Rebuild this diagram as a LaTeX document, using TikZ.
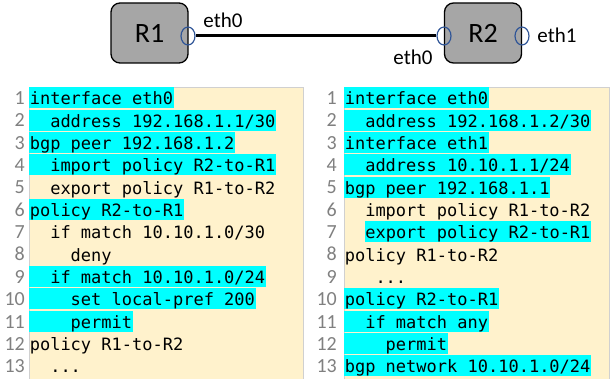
\documentclass[tikz,border=0pt]{standalone}
\usepackage{fontspec}
\usetikzlibrary{shapes.geometric}
\setmainfont{Carlito}
\newfontfamily\codefont{DejaVu Sans Mono}
\definecolor{beige}{HTML}{FFF2CC}
\definecolor{hl}{HTML}{00FFFF}
\definecolor{portblue}{HTML}{2F5597}
\definecolor{routergray}{HTML}{A6A6A6}
\definecolor{panelborder}{HTML}{D0D0D0}
\definecolor{numgray}{HTML}{808080}
\newcommand\rowtop[1]{(87+(#1-1)*22.35)}
\newcommand\codeln[5]{% side prefix, x, row, text, style
  \node[codebox,#5] (#1#3) at (#2,{-\rowtop{#3}}) {#4};}
\newcommand\codenum[4]{% side prefix, x, row, label
  \node[lnum] (#1n#3) at (#2,{-(\rowtop{#3}+17.5)}) {#4};}
\begin{document}
\begin{tikzpicture}[x=1pt,y=1pt,
  router/.style={draw=black,line width=1.3pt,fill=routergray,rounded corners=9pt,
    minimum width=77pt,minimum height=60pt,inner sep=0pt,font=\fontsize{28}{32}\selectfont},
  port/.style={draw=portblue,line width=1.2pt,ellipse,minimum width=14pt,minimum height=18pt,inner sep=0pt},
  iflabel/.style={font=\fontsize{21}{24}\selectfont,inner sep=0pt},
  codebox/.style={anchor=north west,inner xsep=0.6pt,inner ysep=0pt,text height=17.5pt,text depth=3.5pt,
    font=\codefont\fontsize{17}{20}\selectfont},
  hlon/.style={fill=hl},
  hloff/.style={},
  lnum/.style={anchor=base east,inner sep=0pt,text=numgray,font=\fontsize{20}{22}\selectfont},
  panel/.style={fill=beige,draw=panelborder,line width=0.6pt}]
\useasboundingbox (0,0) rectangle (613,-379);
% routers
\node[router] (R1) at (149.5,-33) {R1};
\node[router] (R2) at (483,-33) {R2};
\node[port] (p1) at (188,-36) {};
\node[port] (p2) at (444,-36) {};
\node[port] (p3) at (522,-36) {};
\draw[line width=3pt] (p1.east) -- (p2.west);
\node[iflabel] (t1) at (223,-20) {eth0};
\node[iflabel] (t2) at (413,-57) {eth0};
\node[iflabel] (t3) at (557,-35) {eth1};
% panels
\path[panel] (29,-87) rectangle (303,-382);
\path[panel] (344,-87) rectangle (609,-382);
% left code
\codeln{L}{29}{1}{interface eth0}{hlon}
\codeln{L}{29}{2}{\phantom{00}address 192.168.1.1/30}{hlon}
\codeln{L}{29}{3}{bgp peer 192.168.1.2}{hlon}
\codeln{L}{29}{4}{\phantom{00}import policy R2-to-R1}{hlon}
\codeln{L}{29}{5}{\phantom{00}export policy R1-to-R2}{hloff}
\codeln{L}{29}{6}{policy R2-to-R1}{hlon}
\codeln{L}{29}{7}{\phantom{00}if match 10.10.1.0/30}{hloff}
\codeln{L}{29}{8}{\phantom{0000}deny}{hloff}
\codeln{L}{29}{9}{\phantom{00}if match 10.10.1.0/24}{hlon}
\codeln{L}{29}{10}{\phantom{0000}set local-pref 200}{hlon}
\codeln{L}{29}{11}{\phantom{0000}permit}{hlon}
\codeln{L}{29}{12}{policy R1-to-R2}{hloff}
\codeln{L}{29}{13}{\phantom{00}...}{hloff}
\foreach \i in {1,...,13} {\codenum{L}{25}{\i}{\i}}
% right code
\codeln{R}{344}{1}{interface eth0}{hlon}
\codeln{R}{344}{2}{\phantom{00}address 192.168.1.2/30}{hlon}
\codeln{R}{344}{3}{interface eth1}{hlon}
\codeln{R}{344}{4}{\phantom{00}address 10.10.1.1/24}{hlon}
\codeln{R}{344}{5}{bgp peer 192.168.1.1}{hlon}
\codeln{R}{344}{6}{\phantom{00}import policy R1-to-R2}{hloff}
\codeln{R}{364.5}{7}{export policy R2-to-R1}{hlon}
\codeln{R}{344}{8}{policy R1-to-R2}{hloff}
\codeln{R}{344}{9}{\phantom{000}...}{hloff}
\codeln{R}{344}{10}{policy R2-to-R1}{hlon}
\codeln{R}{344}{11}{\phantom{00}if match any}{hlon}
\codeln{R}{344}{12}{\phantom{0000}permit}{hlon}
\codeln{R}{344}{13}{bgp network 10.10.1.0/24}{hlon}
\foreach \i in {1,...,13} {\codenum{R}{337}{\i}{\i}}
\end{tikzpicture}
\end{document}
